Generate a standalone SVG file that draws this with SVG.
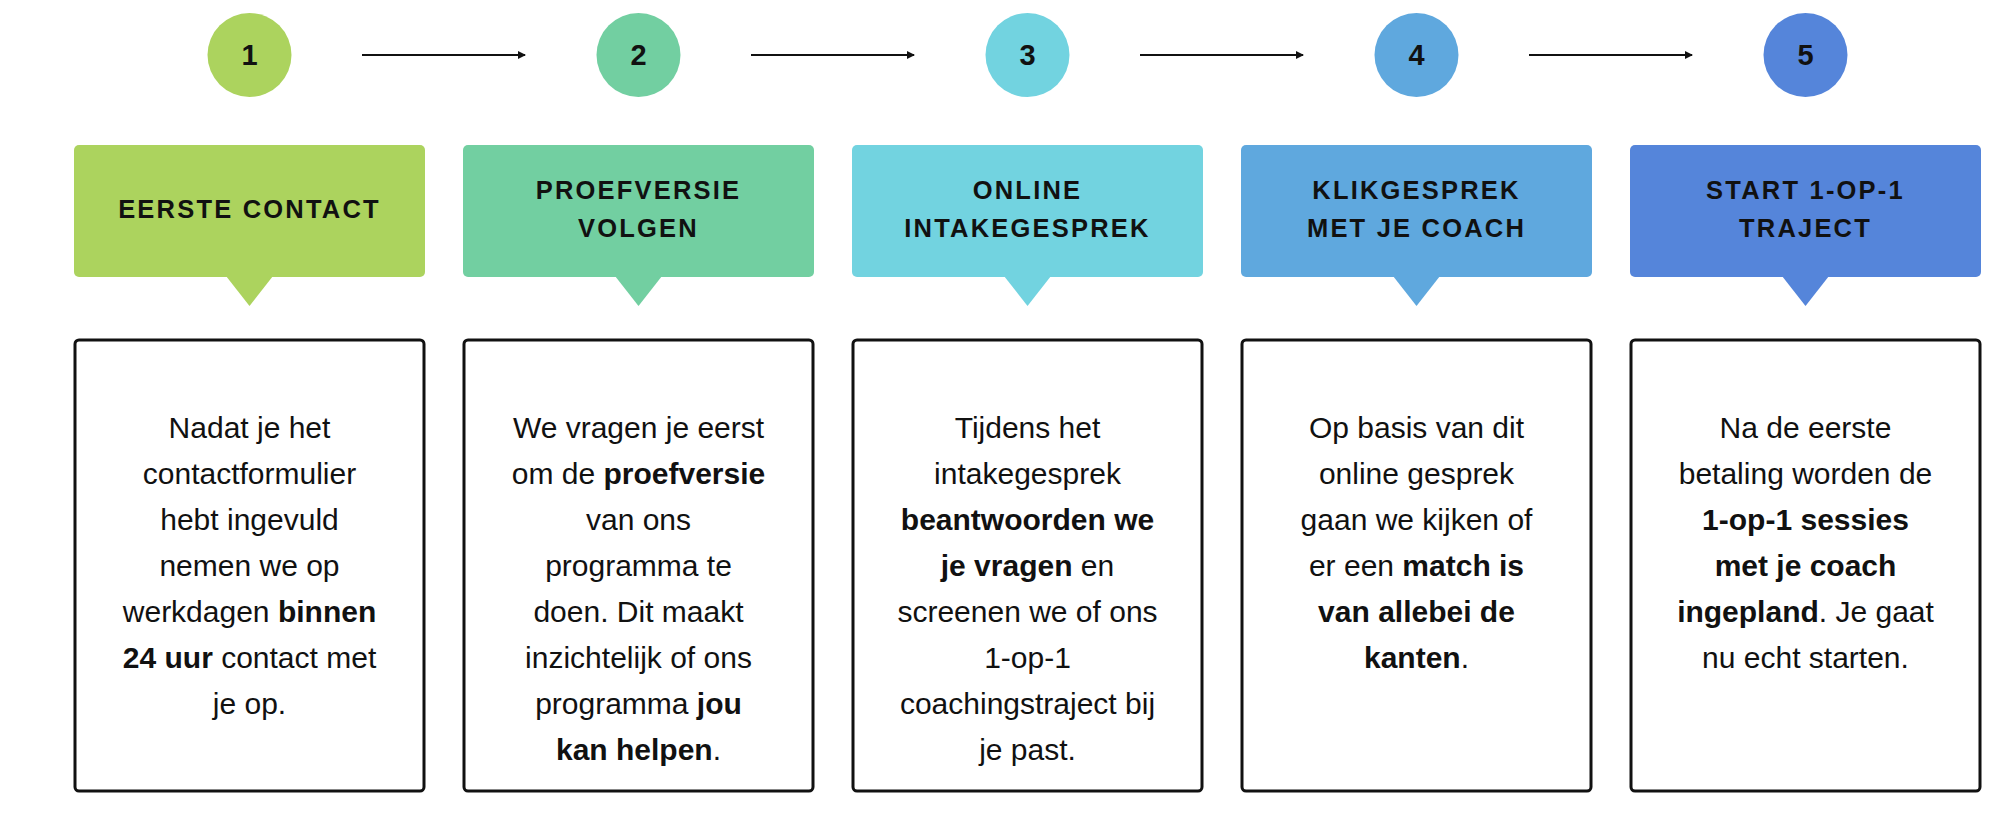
<svg xmlns="http://www.w3.org/2000/svg" width="2000" height="829" viewBox="0 0 2000 829">
<style>
.n{font-family:"Liberation Sans",Arial,sans-serif;font-size:29px;font-weight:bold;fill:#111;text-anchor:middle}
.h{font-family:"Liberation Sans",Arial,sans-serif;font-size:25.5px;font-weight:bold;fill:#111;text-anchor:middle;letter-spacing:2.2px}
.t{font-family:"Liberation Sans",Arial,sans-serif;font-size:30px;fill:#111;text-anchor:middle}
.b{font-weight:bold}
.box{fill:#fff;stroke:#111;stroke-width:3}
.ar{stroke:#111;stroke-width:2;fill:none;marker-end:url(#m)}
</style>
<defs><marker id="m" markerWidth="8" markerHeight="8" refX="7" refY="4" orient="auto" markerUnits="userSpaceOnUse"><path d="M0,0 L8,4 L0,8 Z" fill="#111"/></marker></defs>
<rect width="2000" height="829" fill="#fff"/>
<g id="connectors">
<line class="ar" x1="362" y1="55" x2="525" y2="55"/>
<line class="ar" x1="751" y1="55" x2="914" y2="55"/>
<line class="ar" x1="1140" y1="55" x2="1303" y2="55"/>
<line class="ar" x1="1529" y1="55" x2="1692" y2="55"/>
</g>
<g id="step1">
<circle cx="249.5" cy="55" r="42" fill="#ACD35E"/><text class="n" x="249.5" y="65">1</text>
<rect x="74" y="145" width="351" height="132" rx="5" fill="#ACD35E"/><path d="M226,276 L273,276 L249.5,306 Z" fill="#ACD35E"/>
<text class="h" x="249.5" y="218">EERSTE CONTACT</text>
<rect class="box" x="75" y="340" width="349" height="451" rx="4"/>
<text class="t"><tspan x="249.5" y="438">Nadat je het</tspan><tspan x="249.5" y="484">contactformulier</tspan><tspan x="249.5" y="530">hebt ingevuld</tspan><tspan x="249.5" y="576">nemen we op</tspan><tspan x="249.5" y="622">werkdagen <tspan class="b">binnen</tspan></tspan><tspan x="249.5" y="668"><tspan class="b">24 uur</tspan> contact met</tspan><tspan x="249.5" y="714">je op.</tspan></text>
</g>
<g id="step2">
<circle cx="638.5" cy="55" r="42" fill="#72CFA1"/><text class="n" x="638.5" y="65">2</text>
<rect x="463" y="145" width="351" height="132" rx="5" fill="#72CFA1"/><path d="M615,276 L662,276 L638.5,306 Z" fill="#72CFA1"/>
<text class="h"><tspan x="638.5" y="199">PROEFVERSIE</tspan><tspan x="638.5" y="237">VOLGEN</tspan></text>
<rect class="box" x="464" y="340" width="349" height="451" rx="4"/>
<text class="t"><tspan x="638.5" y="438">We vragen je eerst</tspan><tspan x="638.5" y="484">om de <tspan class="b">proefversie</tspan></tspan><tspan x="638.5" y="530">van ons</tspan><tspan x="638.5" y="576">programma te</tspan><tspan x="638.5" y="622">doen. Dit maakt</tspan><tspan x="638.5" y="668">inzichtelijk of ons</tspan><tspan x="638.5" y="714">programma <tspan class="b">jou</tspan></tspan><tspan x="638.5" y="760"><tspan class="b">kan helpen</tspan>.</tspan></text>
</g>
<g id="step3">
<circle cx="1027.5" cy="55" r="42" fill="#72D3E0"/><text class="n" x="1027.5" y="65">3</text>
<rect x="852" y="145" width="351" height="132" rx="5" fill="#72D3E0"/><path d="M1004,276 L1051,276 L1027.5,306 Z" fill="#72D3E0"/>
<text class="h"><tspan x="1027.5" y="199">ONLINE</tspan><tspan x="1027.5" y="237">INTAKEGESPREK</tspan></text>
<rect class="box" x="853" y="340" width="349" height="451" rx="4"/>
<text class="t"><tspan x="1027.5" y="438">Tijdens het</tspan><tspan x="1027.5" y="484">intakegesprek</tspan><tspan x="1027.5" y="530" class="b">beantwoorden we</tspan><tspan x="1027.5" y="576"><tspan class="b">je vragen</tspan> en</tspan><tspan x="1027.5" y="622">screenen we of ons</tspan><tspan x="1027.5" y="668">1-op-1</tspan><tspan x="1027.5" y="714">coachingstraject bij</tspan><tspan x="1027.5" y="760">je past.</tspan></text>
</g>
<g id="step4">
<circle cx="1416.5" cy="55" r="42" fill="#5FA8DE"/><text class="n" x="1416.5" y="65">4</text>
<rect x="1241" y="145" width="351" height="132" rx="5" fill="#5FA8DE"/><path d="M1393,276 L1440,276 L1416.5,306 Z" fill="#5FA8DE"/>
<text class="h"><tspan x="1416.5" y="199">KLIKGESPREK</tspan><tspan x="1416.5" y="237">MET JE COACH</tspan></text>
<rect class="box" x="1242" y="340" width="349" height="451" rx="4"/>
<text class="t"><tspan x="1416.5" y="438">Op basis van dit</tspan><tspan x="1416.5" y="484">online gesprek</tspan><tspan x="1416.5" y="530">gaan we kijken of</tspan><tspan x="1416.5" y="576">er een <tspan class="b">match is</tspan></tspan><tspan x="1416.5" y="622" class="b">van allebei de</tspan><tspan x="1416.5" y="668"><tspan class="b">kanten</tspan>.</tspan></text>
</g>
<g id="step5">
<circle cx="1805.5" cy="55" r="42" fill="#5585DA"/><text class="n" x="1805.5" y="65">5</text>
<rect x="1630" y="145" width="351" height="132" rx="5" fill="#5585DA"/><path d="M1782,276 L1829,276 L1805.5,306 Z" fill="#5585DA"/>
<text class="h"><tspan x="1805.5" y="199">START 1-OP-1</tspan><tspan x="1805.5" y="237">TRAJECT</tspan></text>
<rect class="box" x="1631" y="340" width="349" height="451" rx="4"/>
<text class="t"><tspan x="1805.5" y="438">Na de eerste</tspan><tspan x="1805.5" y="484">betaling worden de</tspan><tspan x="1805.5" y="530" class="b">1-op-1 sessies</tspan><tspan x="1805.5" y="576" class="b">met je coach</tspan><tspan x="1805.5" y="622"><tspan class="b">ingepland</tspan>. Je gaat</tspan><tspan x="1805.5" y="668">nu echt starten.</tspan></text>
</g>
</svg>
